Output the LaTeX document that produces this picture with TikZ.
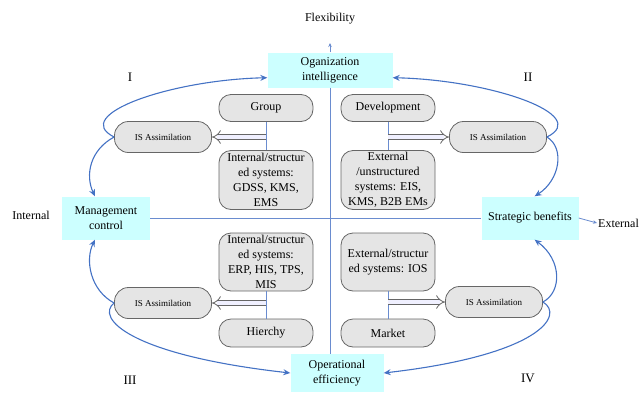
\documentclass[tikz,border=0pt]{standalone}
\usepackage{fontspec}
\setmainfont{Liberation Serif}
\usetikzlibrary{arrows.meta}
\definecolor{flowblue}{HTML}{4472C4}
\definecolor{axisblue}{HTML}{6A8CCF}
\definecolor{goalcyan}{HTML}{CCFFFF}
\begin{document}
\begin{tikzpicture}[x=1pt,y=-1pt,
    goal/.style={fill=goalcyan, align=center, inner sep=1pt, font=\fontsize{12}{15}\selectfont},
    sys/.style={draw=black!60, line width=0.8pt, fill=black!10, rounded corners=12pt, minimum width=94pt, align=center, inner sep=1pt, font=\fontsize{12}{15}\selectfont},
    isa/.style={draw=black!60, line width=0.8pt, fill=black!10, rounded corners=14pt, minimum width=97pt, minimum height=31pt, inner sep=1pt, font=\fontsize{9}{11}\selectfont},
    flow/.style={flowblue, line width=1.1pt, -{Stealth[length=7pt,width=6pt]}},
    axis/.style={axisblue, line width=0.8pt},
    fat/.style={draw=black!60, line width=0.8pt, double=blue!6, double distance=4pt, -{Implies}},
    link/.style={axisblue, line width=0.8pt}]
    \useasboundingbox (0,0) rectangle (642,394);
    \node[goal, minimum width=125pt, minimum height=35pt] (org) at (330,70) {Oganization\\intelligence};
    \node[goal, minimum width=88pt, minimum height=43pt] (mgmt) at (106,218) {Management\\control};
    \node[goal, minimum width=97pt, minimum height=43pt] (strat) at (530,218) {Strategic benefits};
    \node[goal, minimum width=93pt, minimum height=38pt] (oper) at (337,373) {Operational\\efficiency};
    \node[font=\fontsize{12}{14}\selectfont] (flex) at (330,19) {Flexibility};
    \node[font=\fontsize{12}{14}\selectfont] (int) at (31,215) {Internal};
    \node[font=\fontsize{12}{14}\selectfont, anchor=west, inner sep=1pt] (ext) at (597,223) {External};
    \coordinate (ftop) at (330,43);
    \node[font=\fontsize{13}{15}\selectfont] (q1) at (130,77) {I};
    \node[font=\fontsize{13}{15}\selectfont] (q2) at (528,77) {II};
    \node[font=\fontsize{13}{15}\selectfont] (q3) at (130,380) {III};
    \node[font=\fontsize{13}{15}\selectfont] (q4) at (528,378) {IV};
    \draw[axis] (org.south) -- (org.south |- oper.north);
    \draw[axis, -{Stealth[length=4pt,width=3.5pt]}] (org.north) -- (ftop);
    \draw[axis] (mgmt.east) -- (strat.west);
    \draw[axis, -{Stealth[length=4pt,width=3.5pt]}] (strat.east) -- (ext.west);
    \node[sys, minimum height=27pt] (grp) at (266,108) {Group};
    \node[sys, minimum height=59pt] (gdss) at (266,180) {Internal/structur\\ed systems:\\GDSS, KMS,\\EMS};
    \node[sys, minimum height=27pt] (dev) at (388,108) {Development};
    \node[sys, minimum height=59pt] (eis) at (388,180) {External\\/unstructured\\systems: EIS,\\KMS, B2B EMs};
    \node[sys, minimum height=58pt] (erp) at (266,262) {Internal/structur\\ed systems:\\ERP, HIS, TPS,\\MIS};
    \node[sys, minimum height=58pt] (ios) at (388,262) {External/structur\\ed systems: IOS};
    \node[sys, minimum height=28pt] (hier) at (266,333) {Hierchy};
    \node[sys, minimum height=28pt] (mkt) at (388,333) {Market};
    \node[isa] (isa1) at (163,137) {IS Assimilation};
    \node[isa] (isa2) at (498,137) {IS Assimilation};
    \node[isa] (isa3) at (163,303) {IS Assimilation};
    \node[isa] (isa4) at (494,302) {IS Assimilation};
    \draw[link] (grp) -- (gdss);
    \draw[link] (dev) -- (eis);
    \draw[link] (erp) -- (hier);
    \draw[link] (ios) -- (mkt);
    \draw[fat] (grp.south |- isa1.east) -- (isa1.east);
    \draw[fat] (dev.south |- isa2.west) -- (isa2.west);
    \draw[fat] (erp.south |- isa3.east) -- (isa3.east);
    \draw[fat] (ios.south |- isa4.west) -- (isa4.west);
    \draw[flow] (isa1.west) .. controls (70,115) and (170,80) .. (org.187);
    \draw[flow] (isa1.west) .. controls (90,150) and (85,175) .. (mgmt.117);
    \draw[flow] (isa2.east) .. controls (592,115) and (491,80) .. (org.-7);
    \draw[flow] (isa2.east) .. controls (565,148) and (560,180) .. (strat.78);
    \draw[flow] (isa3.west) .. controls (90,290) and (85,260) .. (mgmt.243);
    \draw[flow] (isa3.west) .. controls (95,318) and (130,355) .. (oper.west);
    \draw[flow] (isa4.east) .. controls (562,292) and (562,260) .. (strat.282);
    \draw[flow] (isa4.east) .. controls (565,315) and (540,355) .. (oper.east);
\end{tikzpicture}
\end{document}
